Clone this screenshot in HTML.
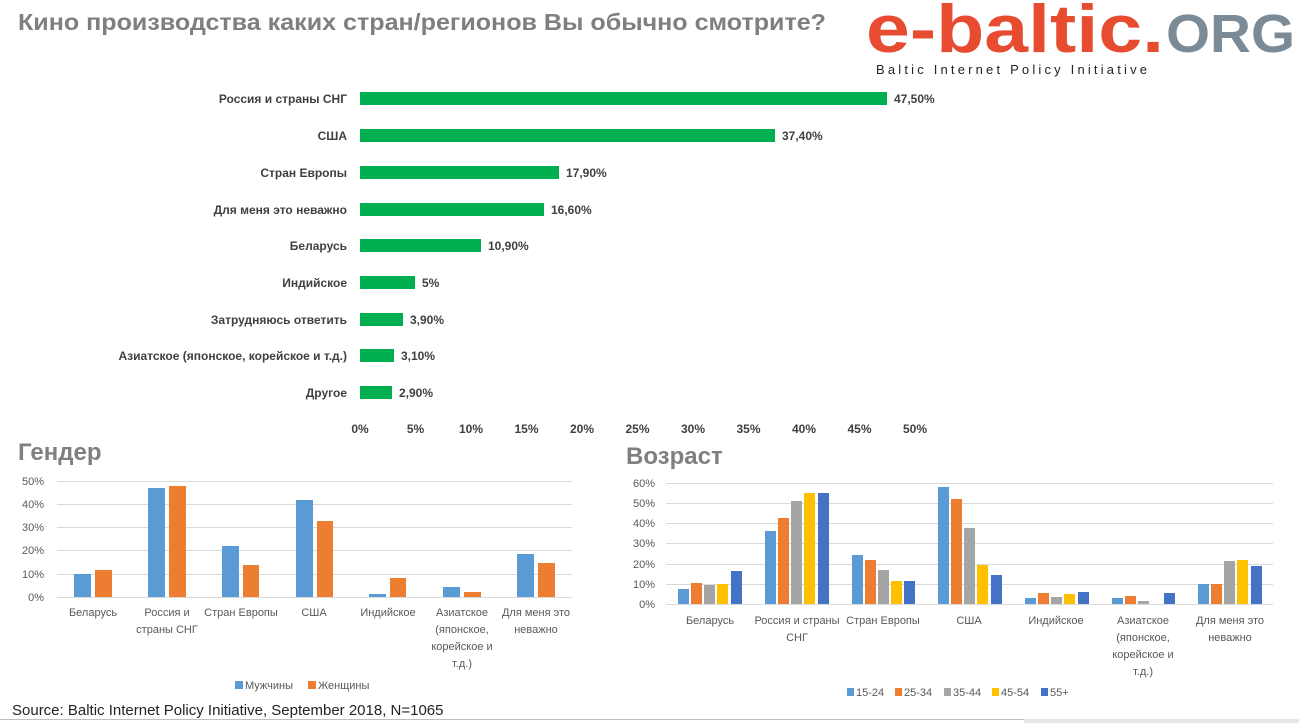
<!DOCTYPE html>
<html><head><meta charset="utf-8"><style>
body{margin:0;background:#fff;}
svg{display:block;font-family:"Liberation Sans","DejaVu Sans",sans-serif;}
</style></head><body>
<svg width="1299" height="723" viewBox="0 0 1299 723" xmlns="http://www.w3.org/2000/svg">
<rect width="1299" height="723" fill="#fff"/>
<text x="18" y="30" font-size="23" font-weight="bold" fill="#7f7f7f" textLength="808" lengthAdjust="spacingAndGlyphs">Кино производства каких стран/регионов Вы обычно смотрите?</text>
<text x="866" y="52" font-size="68" font-weight="bold" fill="#e84c30" textLength="298" lengthAdjust="spacingAndGlyphs">e-baltic.</text>
<text x="1166" y="52" font-size="54" font-weight="bold" fill="#7a8a96" textLength="129" lengthAdjust="spacingAndGlyphs">ORG</text>
<text x="876" y="74" font-size="13" fill="#222" textLength="271" lengthAdjust="spacing">Baltic Internet Policy Initiative</text>
<g id="main" font-size="12" fill="#404040">
<g fill="#00b050">
<rect x="360" y="92" width="527" height="13"/>
<rect x="360" y="129" width="415" height="13"/>
<rect x="360" y="166" width="199" height="13"/>
<rect x="360" y="203" width="184" height="13"/>
<rect x="360" y="239" width="121" height="13"/>
<rect x="360" y="276" width="55" height="13"/>
<rect x="360" y="313" width="43" height="13"/>
<rect x="360" y="349" width="34" height="13"/>
<rect x="360" y="386" width="32" height="13"/>
</g>
<g font-weight="bold" text-anchor="end">
<text x="347" y="103">Россия и страны СНГ</text>
<text x="347" y="140">США</text>
<text x="347" y="177">Стран Европы</text>
<text x="347" y="214">Для меня это неважно</text>
<text x="347" y="250">Беларусь</text>
<text x="347" y="287">Индийское</text>
<text x="347" y="324">Затрудняюсь ответить</text>
<text x="347" y="360">Азиатское (японское, корейское и т.д.)</text>
<text x="347" y="397">Другое</text>
</g>
<g font-weight="bold">
<text x="894" y="103">47,50%</text>
<text x="782" y="140">37,40%</text>
<text x="566" y="177">17,90%</text>
<text x="551" y="214">16,60%</text>
<text x="488" y="250">10,90%</text>
<text x="422" y="287">5%</text>
<text x="410" y="324">3,90%</text>
<text x="401" y="360">3,10%</text>
<text x="399" y="397">2,90%</text>
</g>
<g text-anchor="middle" font-weight="bold">
<text x="360" y="433">0%</text><text x="415.5" y="433">5%</text><text x="471" y="433">10%</text><text x="526.5" y="433">15%</text><text x="582" y="433">20%</text><text x="637.5" y="433">25%</text><text x="693" y="433">30%</text><text x="748.5" y="433">35%</text><text x="804" y="433">40%</text><text x="859.5" y="433">45%</text><text x="915" y="433">50%</text>
</g>
</g>
<text x="18" y="460" font-size="24" font-weight="bold" fill="#7f7f7f">Гендер</text>
<text x="626" y="464" font-size="24" font-weight="bold" fill="#7f7f7f">Возраст</text>
<g stroke="#d9d9d9" stroke-width="1">
<line x1="57" x2="572" y1="481.5" y2="481.5"/><line x1="57" x2="572" y1="504.5" y2="504.5"/><line x1="57" x2="572" y1="527.5" y2="527.5"/><line x1="57" x2="572" y1="550.5" y2="550.5"/><line x1="57" x2="572" y1="574.5" y2="574.5"/><line x1="57" x2="572" y1="597.5" y2="597.5"/>
<line x1="666" x2="1273" y1="483.5" y2="483.5"/><line x1="666" x2="1273" y1="503.5" y2="503.5"/><line x1="666" x2="1273" y1="523.5" y2="523.5"/><line x1="666" x2="1273" y1="543.5" y2="543.5"/><line x1="666" x2="1273" y1="564.5" y2="564.5"/><line x1="666" x2="1273" y1="584.5" y2="584.5"/><line x1="666" x2="1273" y1="604.5" y2="604.5"/>
</g>
<g font-size="11" fill="#595959" text-anchor="end">
<text x="44" y="485">50%</text><text x="44" y="508">40%</text><text x="44" y="531">30%</text><text x="44" y="554">20%</text><text x="44" y="578">10%</text><text x="44" y="601">0%</text>
<text x="655" y="487">60%</text><text x="655" y="507">50%</text><text x="655" y="527">40%</text><text x="655" y="547">30%</text><text x="655" y="568">20%</text><text x="655" y="588">10%</text><text x="655" y="608">0%</text>
</g>
<g id="gender">
<g fill="#5b9bd5">
<rect x="74" y="574" width="17" height="23"/>
<rect x="148" y="488" width="17" height="109"/>
<rect x="222" y="546" width="17" height="51"/>
<rect x="296" y="500" width="17" height="97"/>
<rect x="369" y="594" width="17" height="3"/>
<rect x="443" y="587" width="17" height="10"/>
<rect x="517" y="554" width="17" height="43"/>
</g>
<g fill="#ed7d31">
<rect x="95" y="570" width="17" height="27"/>
<rect x="169" y="486" width="17" height="111"/>
<rect x="243" y="565" width="16" height="32"/>
<rect x="317" y="521" width="16" height="76"/>
<rect x="390" y="578" width="16" height="19"/>
<rect x="464" y="592" width="17" height="5"/>
<rect x="538" y="563" width="17" height="34"/>
</g>
<g font-size="11" fill="#595959" text-anchor="middle">
<text x="93" y="616">Беларусь</text>
<text x="167" y="616">Россия и</text><text x="167" y="633">страны СНГ</text>
<text x="241" y="616">Стран Европы</text>
<text x="314" y="616">США</text>
<text x="388" y="616">Индийское</text>
<text x="462" y="616">Азиатское</text><text x="462" y="633">(японское,</text><text x="462" y="650">корейское и</text><text x="462" y="667">т.д.)</text>
<text x="536" y="616">Для меня это</text><text x="536" y="633">неважно</text>
</g>
<rect x="235" y="681" width="8" height="8" fill="#5b9bd5"/>
<text x="245" y="689" font-size="11" fill="#595959">Мужчины</text>
<rect x="308" y="681" width="8" height="8" fill="#ed7d31"/>
<text x="318" y="689" font-size="11" fill="#595959">Женщины</text>
</g>
<g id="age">
<g fill="#5b9bd5">
<rect x="678" y="589" width="11" height="15"/><rect x="765" y="531" width="11" height="73"/><rect x="852" y="555" width="11" height="49"/><rect x="938" y="487" width="11" height="117"/><rect x="1025" y="598" width="11" height="6"/><rect x="1112" y="598" width="11" height="6"/><rect x="1198" y="584" width="11" height="20"/>
</g>
<g fill="#ed7d31">
<rect x="691" y="583" width="11" height="21"/><rect x="778" y="518" width="11" height="86"/><rect x="865" y="560" width="11" height="44"/><rect x="951" y="499" width="11" height="105"/><rect x="1038" y="593" width="11" height="11"/><rect x="1125" y="596" width="11" height="8"/><rect x="1211" y="584" width="11" height="20"/>
</g>
<g fill="#a5a5a5">
<rect x="704" y="585" width="11" height="19"/><rect x="791" y="501" width="11" height="103"/><rect x="878" y="570" width="11" height="34"/><rect x="964" y="528" width="11" height="76"/><rect x="1051" y="597" width="11" height="7"/><rect x="1138" y="601" width="11" height="3"/><rect x="1224" y="561" width="11" height="43"/>
</g>
<g fill="#ffc000">
<rect x="717" y="584" width="11" height="20"/><rect x="804" y="493" width="11" height="111"/><rect x="891" y="581" width="11" height="23"/><rect x="977" y="565" width="11" height="39"/><rect x="1064" y="594" width="11" height="10"/><rect x="1237" y="560" width="11" height="44"/>
</g>
<g fill="#4472c4">
<rect x="731" y="571" width="11" height="33"/><rect x="818" y="493" width="11" height="111"/><rect x="904" y="581" width="11" height="23"/><rect x="991" y="575" width="11" height="29"/><rect x="1078" y="592" width="11" height="12"/><rect x="1164" y="593" width="11" height="11"/><rect x="1251" y="566" width="11" height="38"/>
</g>
<g font-size="11" fill="#595959" text-anchor="middle">
<text x="710" y="624">Беларусь</text>
<text x="797" y="624">Россия и страны</text><text x="797" y="641">СНГ</text>
<text x="883" y="624">Стран Европы</text>
<text x="969" y="624">США</text>
<text x="1056" y="624">Индийское</text>
<text x="1143" y="624">Азиатское</text><text x="1143" y="641">(японское,</text><text x="1143" y="658">корейское и</text><text x="1143" y="675">т.д.)</text>
<text x="1230" y="624">Для меня это</text><text x="1230" y="641">неважно</text>
</g>
<g font-size="11" fill="#595959">
<rect x="847" y="688" width="7" height="8" fill="#5b9bd5"/><text x="856" y="696">15-24</text>
<rect x="895" y="688" width="7" height="8" fill="#ed7d31"/><text x="904" y="696">25-34</text>
<rect x="944" y="688" width="7" height="8" fill="#a5a5a5"/><text x="953" y="696">35-44</text>
<rect x="992" y="688" width="7" height="8" fill="#ffc000"/><text x="1001" y="696">45-54</text>
<rect x="1041" y="688" width="7" height="8" fill="#4472c4"/><text x="1050" y="696">55+</text>
</g>
</g>
<text x="12" y="715" font-size="15" fill="#222">Source: Baltic Internet Policy Initiative,  September 2018, N=1065</text>
<line x1="0" x2="1024" y1="719.5" y2="719.5" stroke="#bfbfbf"/>
<rect x="1024" y="719" width="275" height="4" fill="#e6e6e6"/>
</svg>
</body></html>
